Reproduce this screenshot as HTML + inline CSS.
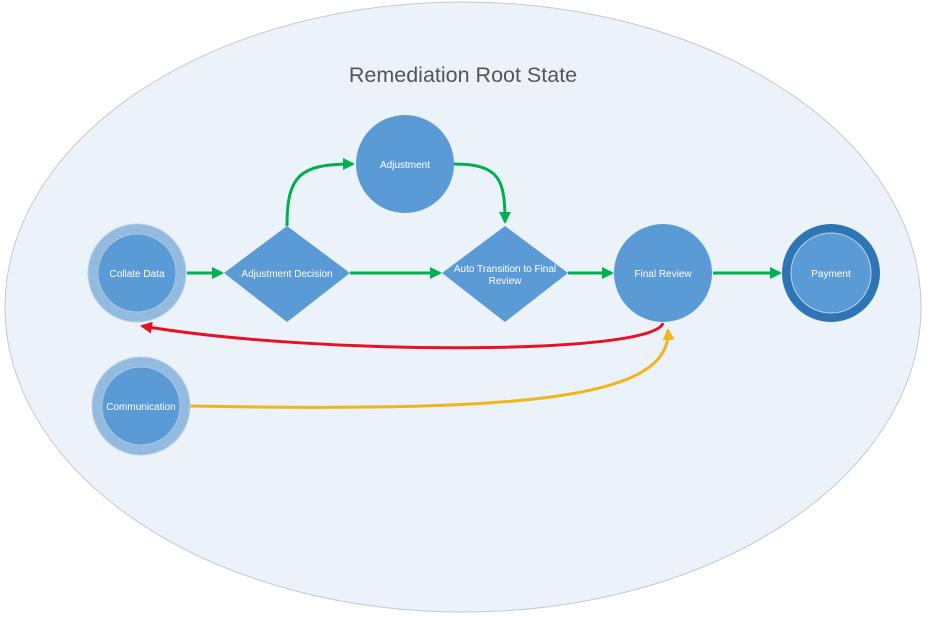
<!DOCTYPE html>
<html><head><meta charset="utf-8"><style>
html,body{margin:0;padding:0;background:#fff;width:928px;height:621px;overflow:hidden}
text{font-family:"Liberation Sans",sans-serif}
</style></head><body>
<svg width="928" height="621" viewBox="0 0 928 621" xmlns="http://www.w3.org/2000/svg">
<defs>
<marker id="g" markerWidth="12" markerHeight="12" refX="10" refY="6" orient="auto" markerUnits="userSpaceOnUse"><path d="M0,0 L12,6 L0,12 z" fill="#00b050"/></marker>
<marker id="r" markerWidth="12" markerHeight="12" refX="10" refY="6" orient="auto" markerUnits="userSpaceOnUse"><path d="M0,0 L12,6 L0,12 z" fill="#e81123"/></marker>
<marker id="y" markerWidth="12" markerHeight="12" refX="10" refY="6" orient="auto" markerUnits="userSpaceOnUse"><path d="M0,0 L12,6 L0,12 z" fill="#f0b518"/></marker>
</defs>
<ellipse cx="463" cy="307" rx="458" ry="305" fill="#ebf2fa" stroke="#c2cad2" stroke-width="1"/>
<text x="463" y="82" font-size="21.5" fill="#555" text-anchor="middle">Remediation Root State</text>

<g stroke="#00b050" stroke-width="3" fill="none">
<line x1="187" y1="273" x2="222" y2="273" marker-end="url(#g)"/>
<line x1="350" y1="273" x2="440" y2="273" marker-end="url(#g)"/>
<line x1="568" y1="273" x2="612" y2="273" marker-end="url(#g)"/>
<line x1="713" y1="273" x2="780" y2="273" marker-end="url(#g)"/>
<path d="M287,226 C287,175 300,164 353,164" marker-end="url(#g)"/>
<path d="M454,164 C500,164 505,180 505,222" marker-end="url(#g)"/>
</g>
<path d="M663,323 C655,355 320,356 142,326" stroke="#e81123" stroke-width="3" fill="none" marker-end="url(#r)"/>
<path d="M190,406 C520,412 672,400 668,330" stroke="#f0b518" stroke-width="3" fill="none" marker-end="url(#y)"/>

<circle cx="137" cy="273" r="49" fill="#93badf" stroke="#b8cfe4"/>
<circle cx="137" cy="273" r="39" fill="#5b9bd5" stroke="#a9c6e4"/>
<text x="137" y="277" font-size="10" fill="#fff" text-anchor="middle">Collate Data</text>

<circle cx="141" cy="406" r="49" fill="#93badf" stroke="#b8cfe4"/>
<circle cx="141" cy="406" r="39" fill="#5b9bd5" stroke="#a9c6e4"/>
<text x="141" y="410" font-size="10" fill="#fff" text-anchor="middle">Communication</text>

<polygon points="224,273 287,226 350,273 287,322" fill="#5b9bd5"/>
<text x="287" y="277" font-size="10" fill="#fff" text-anchor="middle">Adjustment Decision</text>

<circle cx="405" cy="164" r="49" fill="#5b9bd5"/>
<text x="405" y="168" font-size="10" fill="#fff" text-anchor="middle">Adjustment</text>

<polygon points="442,273 505,226 568,273 505,322" fill="#5b9bd5"/>
<text x="505" y="272" font-size="10" fill="#fff" text-anchor="middle">Auto Transition to Final</text>
<text x="505" y="284" font-size="10" fill="#fff" text-anchor="middle">Review</text>

<circle cx="663" cy="273" r="49" fill="#5b9bd5"/>
<text x="663" y="277" font-size="10" fill="#fff" text-anchor="middle">Final Review</text>

<circle cx="831" cy="273" r="49" fill="#2e75b6"/>
<circle cx="831" cy="273" r="40" fill="#5b9bd5" stroke="#bcd4ec"/>
<text x="831" y="277" font-size="10" fill="#fff" text-anchor="middle">Payment</text>
</svg>
</body></html>
